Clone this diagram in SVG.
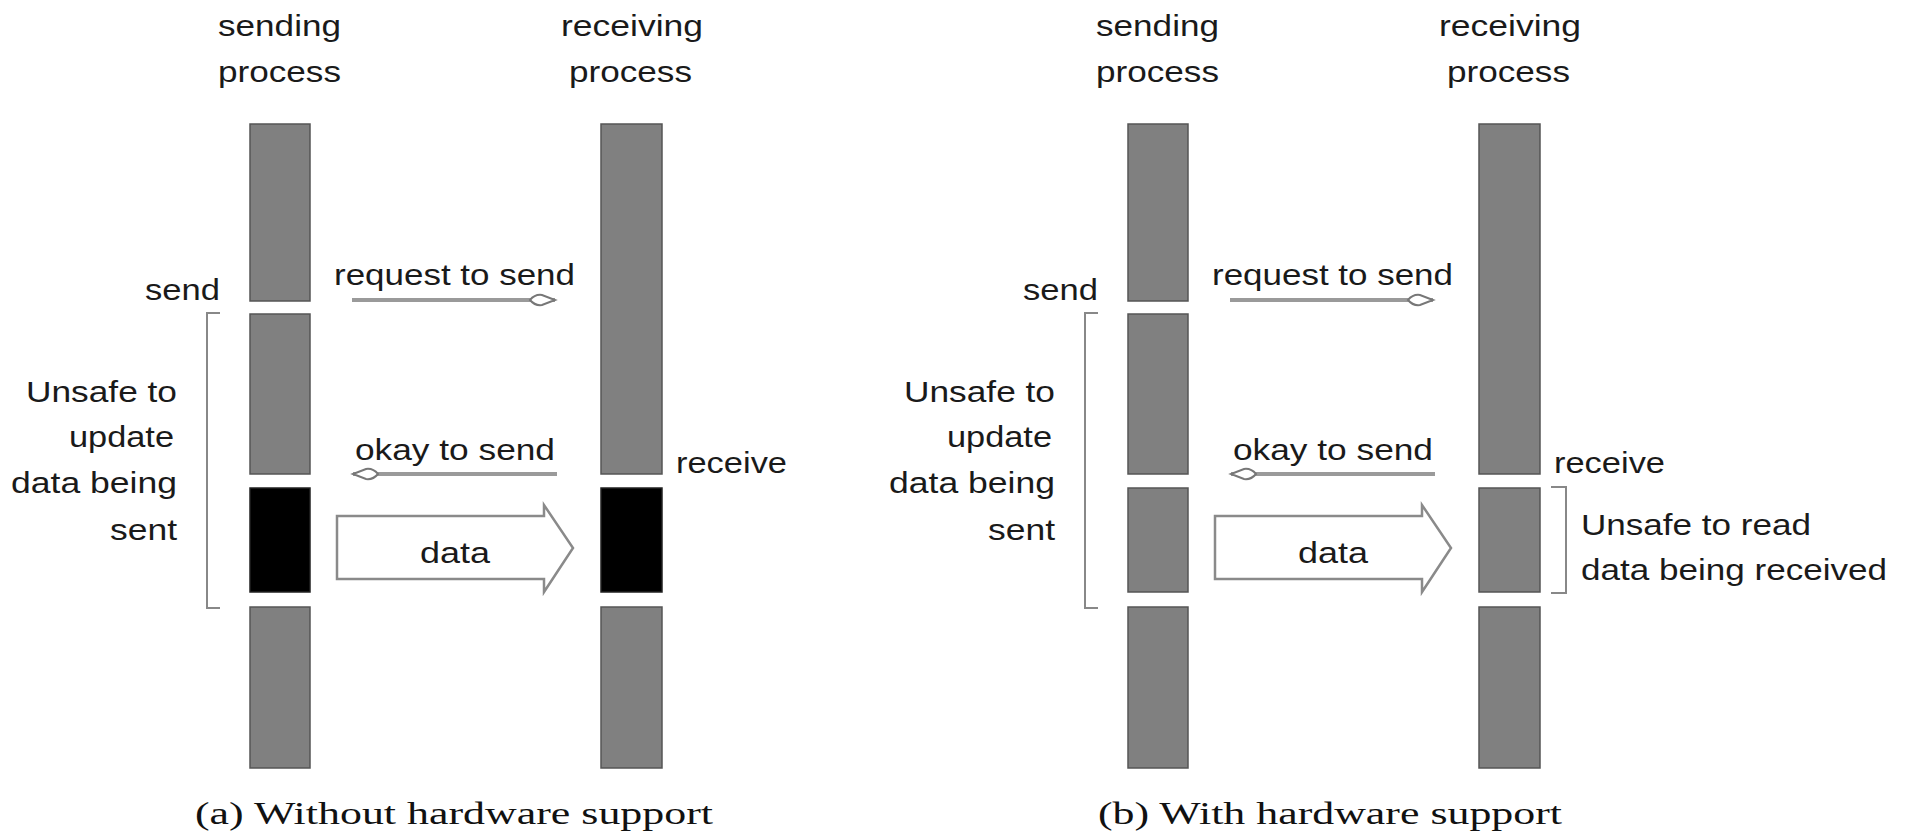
<svg xmlns="http://www.w3.org/2000/svg" width="1906" height="833" viewBox="0 0 1906 833">
<style>
  .bar { fill: #808080; stroke: #555; stroke-width: 1.5; }
  .blk { fill: #000; stroke: #222; stroke-width: 1.5; }
  .lbl { font-family: "Liberation Sans", Arial, sans-serif; font-size: 30px; fill: #1a1a1a; }
  .cap { font-family: "Liberation Serif", "Times New Roman", serif; font-size: 31px; fill: #111; }
  .msg { stroke: #9a9a9a; stroke-width: 4; fill: none; }
  .brk { stroke: #888; stroke-width: 2; fill: none; }
  .big { fill: #fff; stroke: #8a8a8a; stroke-width: 2.5; stroke-linejoin: miter; }
</style>
<defs>
  <marker id="ah" markerUnits="userSpaceOnUse" markerWidth="30" markerHeight="16" refX="27" refY="8" orient="auto" viewBox="0 0 30 16">
    <path d="M2,8 Q7,2 14,3 L27,8 L14,13 Q7,14 2,8 Z" fill="#fff" stroke="#777" stroke-width="2"/>
  </marker>
</defs>
<rect width="1906" height="833" fill="#fff"/>

<!-- Panel (a) -->
<g id="a-sending">
  <text class="lbl" x="218" y="36" textLength="123" lengthAdjust="spacingAndGlyphs">sending</text>
  <text class="lbl" x="218" y="82" textLength="123" lengthAdjust="spacingAndGlyphs">process</text>
  <rect class="bar" x="250" y="124" width="60" height="177"/>
  <rect class="bar" x="250" y="314" width="60" height="160"/>
  <rect class="blk" x="250" y="488" width="60" height="104"/>
  <rect class="bar" x="250" y="607" width="60" height="161"/>
</g>
<g id="a-receiving">
  <text class="lbl" x="561" y="36" textLength="142" lengthAdjust="spacingAndGlyphs">receiving</text>
  <text class="lbl" x="569" y="82" textLength="123" lengthAdjust="spacingAndGlyphs">process</text>
  <rect class="bar" x="601" y="124" width="61" height="350"/>
  <rect class="blk" x="601" y="488" width="61" height="104"/>
  <rect class="bar" x="601" y="607" width="61" height="161"/>
</g>
<g id="a-labels">
  <text class="lbl" x="145" y="300" textLength="75" lengthAdjust="spacingAndGlyphs">send</text>
  <text class="lbl" x="26" y="402" textLength="151" lengthAdjust="spacingAndGlyphs">Unsafe to</text>
  <text class="lbl" x="69" y="447" textLength="105" lengthAdjust="spacingAndGlyphs">update</text>
  <text class="lbl" x="11" y="493" textLength="166" lengthAdjust="spacingAndGlyphs">data being</text>
  <text class="lbl" x="110" y="540" textLength="67" lengthAdjust="spacingAndGlyphs">sent</text>
  <text class="lbl" x="676" y="473" textLength="111" lengthAdjust="spacingAndGlyphs">receive</text>
  <path class="brk" d="M220,313 H207 V608 H220"/>
  <text class="cap" x="195" y="824" textLength="518" lengthAdjust="spacingAndGlyphs">(a) Without hardware support</text>
</g>
<g id="a-connectors">
  <line class="msg" x1="352" y1="300" x2="555" y2="300" marker-end="url(#ah)"/>
  <text class="lbl" x="334" y="285" textLength="241" lengthAdjust="spacingAndGlyphs">request to send</text>
  <line class="msg" x1="557" y1="474" x2="353" y2="474" marker-end="url(#ah)"/>
  <text class="lbl" x="355" y="460" textLength="200" lengthAdjust="spacingAndGlyphs">okay to send</text>
  <polygon class="big" points="337,516 544,516 544,505 573,548 544,592 544,579 337,579"/>
  <text class="lbl" x="420" y="563" textLength="70" lengthAdjust="spacingAndGlyphs">data</text>
</g>

<!-- Panel (b) -->
<g id="b-sending">
  <text class="lbl" x="1096" y="36" textLength="123" lengthAdjust="spacingAndGlyphs">sending</text>
  <text class="lbl" x="1096" y="82" textLength="123" lengthAdjust="spacingAndGlyphs">process</text>
  <rect class="bar" x="1128" y="124" width="60" height="177"/>
  <rect class="bar" x="1128" y="314" width="60" height="160"/>
  <rect class="bar" x="1128" y="488" width="60" height="104"/>
  <rect class="bar" x="1128" y="607" width="60" height="161"/>
</g>
<g id="b-receiving">
  <text class="lbl" x="1439" y="36" textLength="142" lengthAdjust="spacingAndGlyphs">receiving</text>
  <text class="lbl" x="1447" y="82" textLength="123" lengthAdjust="spacingAndGlyphs">process</text>
  <rect class="bar" x="1479" y="124" width="61" height="350"/>
  <rect class="bar" x="1479" y="488" width="61" height="104"/>
  <rect class="bar" x="1479" y="607" width="61" height="161"/>
</g>
<g id="b-labels">
  <text class="lbl" x="1023" y="300" textLength="75" lengthAdjust="spacingAndGlyphs">send</text>
  <text class="lbl" x="904" y="402" textLength="151" lengthAdjust="spacingAndGlyphs">Unsafe to</text>
  <text class="lbl" x="947" y="447" textLength="105" lengthAdjust="spacingAndGlyphs">update</text>
  <text class="lbl" x="889" y="493" textLength="166" lengthAdjust="spacingAndGlyphs">data being</text>
  <text class="lbl" x="988" y="540" textLength="67" lengthAdjust="spacingAndGlyphs">sent</text>
  <text class="lbl" x="1554" y="473" textLength="111" lengthAdjust="spacingAndGlyphs">receive</text>
  <path class="brk" d="M1098,313 H1085 V608 H1098"/>
  <path class="brk" d="M1551,487 H1566 V593 H1551"/>
  <text class="lbl" x="1581" y="535" textLength="230" lengthAdjust="spacingAndGlyphs">Unsafe to read</text>
  <text class="lbl" x="1581" y="580" textLength="306" lengthAdjust="spacingAndGlyphs">data being received</text>
  <text class="cap" x="1098" y="824" textLength="464" lengthAdjust="spacingAndGlyphs">(b) With hardware support</text>
</g>
<g id="b-connectors">
  <line class="msg" x1="1230" y1="300" x2="1433" y2="300" marker-end="url(#ah)"/>
  <text class="lbl" x="1212" y="285" textLength="241" lengthAdjust="spacingAndGlyphs">request to send</text>
  <line class="msg" x1="1435" y1="474" x2="1231" y2="474" marker-end="url(#ah)"/>
  <text class="lbl" x="1233" y="460" textLength="200" lengthAdjust="spacingAndGlyphs">okay to send</text>
  <polygon class="big" points="1215,516 1422,516 1422,505 1451,548 1422,592 1422,579 1215,579"/>
  <text class="lbl" x="1298" y="563" textLength="70" lengthAdjust="spacingAndGlyphs">data</text>
</g>
</svg>
